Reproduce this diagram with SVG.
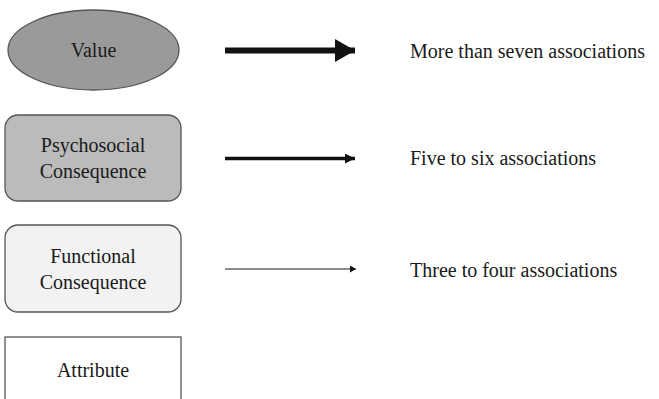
<svg xmlns="http://www.w3.org/2000/svg" width="659" height="399" viewBox="0 0 659 399">
<style>
text{font-family:"Liberation Serif","Times New Roman",serif;font-size:20px;fill:#1a1a1a}
.c{text-anchor:middle}
.n{stroke:#555;stroke-width:1.3}
</style>
<defs>
<marker id="h1" markerUnits="userSpaceOnUse" markerWidth="22" markerHeight="24" refX="20" refY="11.5" orient="auto"><path d="M0,0 L20,11.5 L0,23 Z" fill="#111"/></marker>
<marker id="h2" markerUnits="userSpaceOnUse" markerWidth="12" markerHeight="12" refX="10" refY="5" orient="auto"><path d="M0,0 L10,5 L0,10 Z" fill="#111"/></marker>
<marker id="h3" markerUnits="userSpaceOnUse" markerWidth="8" markerHeight="8" refX="6" refY="3.5" orient="auto"><path d="M0,0 L6,3.5 L0,7 Z" fill="#111"/></marker>
</defs>
<rect width="659" height="399" fill="#fff"/>
<g id="value"><ellipse class="n" cx="93.5" cy="50" rx="85.5" ry="40" fill="#9a9a9a"/><text class="c" x="93.5" y="57">Value</text></g>
<g id="psychosocial"><rect class="n" x="5" y="115" width="176" height="86" rx="13" fill="#bbbbbb"/><text class="c" x="93" y="152">Psychosocial</text><text class="c" x="93" y="178">Consequence</text></g>
<g id="functional"><rect class="n" x="5" y="225" width="176" height="87" rx="13" fill="#f2f2f2"/><text class="c" x="93" y="263">Functional</text><text class="c" x="93" y="289">Consequence</text></g>
<g id="attribute"><rect class="n" x="5" y="337" width="176" height="80" fill="#fff"/><text class="c" x="93" y="377">Attribute</text></g>
<g id="connectors">
<line x1="225" y1="50.5" x2="355" y2="50.5" stroke="#111" stroke-width="6" marker-end="url(#h1)"/>
<line x1="225" y1="158.5" x2="355" y2="158.5" stroke="#111" stroke-width="3.5" marker-end="url(#h2)"/>
<line x1="225" y1="269" x2="356" y2="269" stroke="#666" stroke-width="1.6" marker-end="url(#h3)"/>
</g>
<g id="legend">
<text x="410" y="58">More than seven associations</text>
<text x="410" y="165">Five to six associations</text>
<text x="410" y="277">Three to four associations</text>
</g>
</svg>
